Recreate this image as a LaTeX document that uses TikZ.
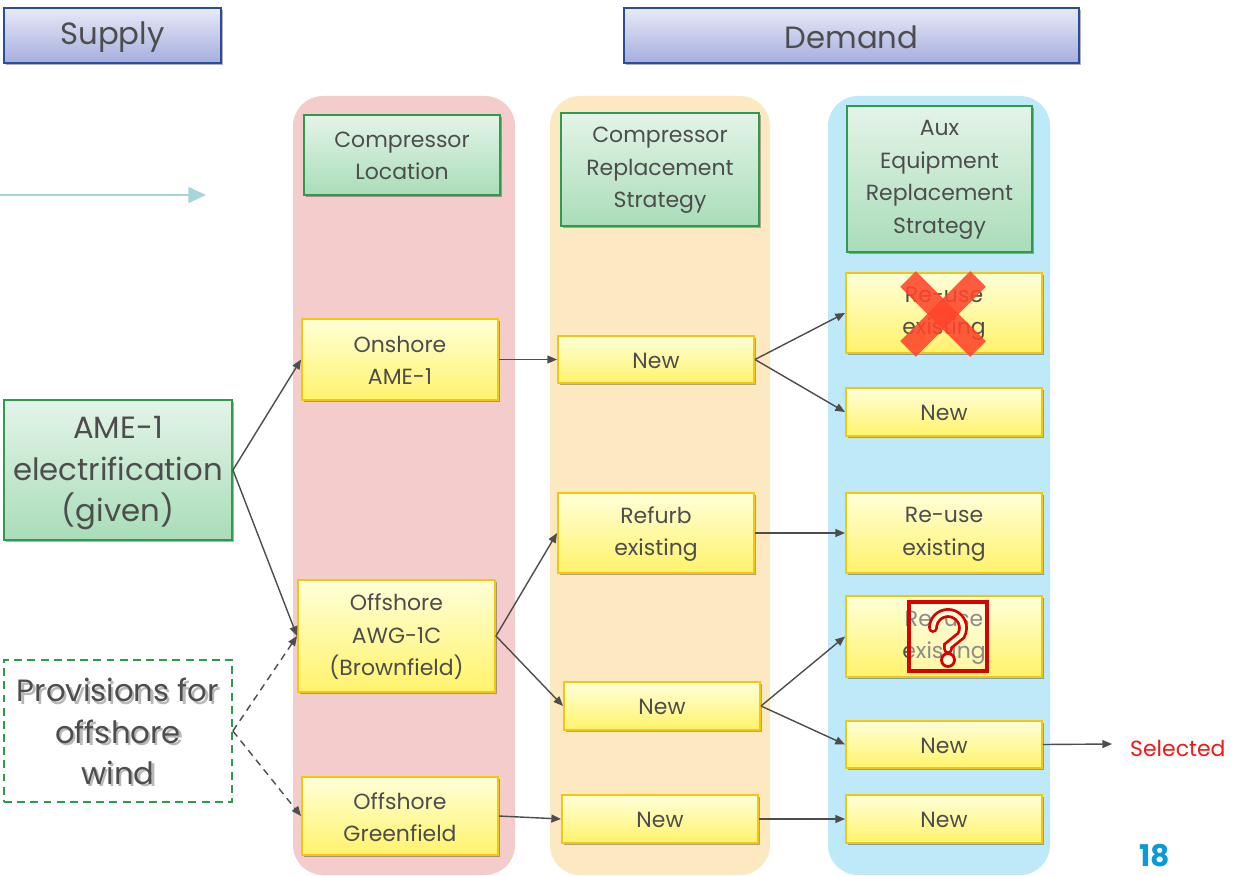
\documentclass[tikz,border=0pt]{standalone}
\usepackage{fontspec}
\setmainfont{Poppins}
\usetikzlibrary{arrows.meta,shadows,fit}
\definecolor{txt}{HTML}{4D4D4D}
\definecolor{colred}{HTML}{F5CCCC}
\definecolor{colorg}{HTML}{FCE9C2}
\definecolor{colblu}{HTML}{BEE9F8}
\definecolor{grnt}{HTML}{E4F4E8}
\definecolor{grnbt}{HTML}{A9DDB9}
\definecolor{grnb}{HTML}{2F9B4F}
\definecolor{ylt}{HTML}{FFFFD8}
\definecolor{ylbt}{HTML}{FFF36B}
\definecolor{ylb}{HTML}{F2C80F}
\definecolor{hdt}{HTML}{E8EAF7}
\definecolor{hdbt}{HTML}{A5AEDE}
\definecolor{hdb}{HTML}{2B4C9B}
\definecolor{cyanarr}{HTML}{A6D6D9}
\definecolor{selred}{HTML}{F01818}
\definecolor{pgblue}{HTML}{0A9AD8}
\definecolor{xred}{HTML}{FF452C}
\newcommand{\tbox}[7]{%
  \node[#1,fit={(#3,#4)(#5,#6)}] (#2) {};
  \node[#1T] (#2t) at (#2.center) {#7};}
\begin{document}
\begin{tikzpicture}[x=0.02cm,y=-0.02cm,
  shd/.style={drop shadow={shadow xshift=1.2pt,shadow yshift=-1.2pt,opacity=0.3,fill=black}},
  hdr/.style={draw=hdb,line width=1pt,top color=hdt,bottom color=hdbt,shd,inner sep=0pt},
  hdrT/.style={text=txt,font=\fontsize{17.5}{20}\selectfont,yshift=-1.2pt},
  gbox/.style={draw=grnb,line width=1.1pt,top color=grnt,bottom color=grnbt,shd,inner sep=0pt},
  gboxT/.style={align=center,text=txt,font=\fontsize{12.5}{18.5}\selectfont,yshift=-0.6pt},
  bigT/.style={align=center,text=txt,font=\fontsize{17.5}{23.5}\selectfont,yshift=-1.8pt},
  ybox/.style={draw=ylb,line width=1.1pt,top color=ylt,bottom color=ylbt,shd,inner sep=0pt},
  yboxT/.style={align=center,text=txt,font=\fontsize{12.5}{18.5}\selectfont,yshift=-0.6pt},
  arr/.style={draw=txt,line width=0.8pt,-{Triangle[length=5.5pt,width=4.5pt]}},
  dsh/.style={dash pattern=on 4pt off 3pt}
]
\useasboundingbox (0,0) rectangle (1236,875);
\clip (0,0) rectangle (1236,875);
\fill[white] (0,0) rectangle (1236,875);

% columns
\fill[colred,rounded corners=0.6cm] (293,96) rectangle (515,875);
\fill[colorg,rounded corners=0.6cm] (550,96) rectangle (770,875);
\fill[colblu,rounded corners=0.6cm] (828,96) rectangle (1050,875);

% headers
\tbox{hdr}{supply}{4}{8}{221}{63}{Supply}
\tbox{hdr}{demand}{624}{8}{1079}{63}{Demand}

% cyan arrow
\coordinate (cya) at (0,195);
\coordinate (cyb) at (206,195);
\draw[cyanarr,line width=1.3pt,-{Triangle[length=10pt,width=9pt]}] (cya) -- (cyb);

% column headers
\tbox{gbox}{h1}{304}{115}{500}{195}{Compressor\\Location}
\tbox{gbox}{h2}{561}{113}{759}{226}{Compressor\\Replacement\\Strategy}
\tbox{gbox}{h3}{847}{106}{1032}{252}{Aux\\Equipment\\Replacement\\Strategy}

% left boxes
\node[gbox,fit={(4,400)(232,540)}] (ame) {};
\node[bigT] (amet) at (ame.center) {AME-1\\electrification\\(given)};
\node[draw=grnb,line width=1pt,dash pattern=on 4.5pt off 3pt,fill=white,inner sep=0pt,
  fit={(4,660)(232,802)}] (prov) {};
\node[bigT,text=black!28] (provs) at ([xshift=1.3pt,yshift=0.2pt]prov.center) {Provisions for\\offshore\\wind};
\node[bigT] (provt) at ([yshift=1.5pt]prov.center) {Provisions for\\offshore\\wind};

% column 1
\tbox{ybox}{onshore}{302}{319}{498}{400}{Onshore\\AME-1}
\tbox{ybox}{awg}{298}{580}{495}{692}{Offshore\\AWG-1C\\(Brownfield)}
\tbox{ybox}{green}{302}{777}{498}{855}{Offshore\\Greenfield}

% column 2
\tbox{ybox}{n1}{558}{336}{754}{383}{New}
\tbox{ybox}{refurb}{558}{493}{754}{573}{Refurb\\existing}
\tbox{ybox}{n2}{564}{682}{760}{730}{New}
\tbox{ybox}{n3}{562}{795}{758}{843}{New}

% column 3
\tbox{ybox}{reusex}{846}{273}{1042}{353}{Re-use\\existing}
\tbox{ybox}{n4}{846}{388}{1042}{436}{New}
\tbox{ybox}{reuse}{846}{493}{1042}{573}{Re-use\\existing}
\tbox{ybox}{reuseq}{846}{596}{1042}{677}{Re-use\\existing}
\tbox{ybox}{n5}{846}{721}{1042}{768}{New}
\tbox{ybox}{n6}{846}{795}{1042}{843}{New}

% red X
\draw[xred,opacity=0.88,line width=12.5pt] (908,279) -- (978,349);
\draw[xred,opacity=0.88,line width=12.5pt] (978,279) -- (908,349);

% question mark box
\draw[red!85!black,line width=1.8pt,fill=white,fill opacity=0.35] (909,602) rectangle (987,671);
\draw[red!85!black,line width=1.6pt,double=ylt,double distance=2.4pt,line cap=round]
  (933,628) arc[start angle=180,end angle=390,radius=15] -- (948,646) -- (948,649);
\draw[red!85!black,line width=1.6pt,fill=ylt] (948,660) circle[radius=6.5];

% connectors
\draw[arr] (ame.east) -- (onshore.west);
\draw[arr] (ame.east) -- (awg.west);
\draw[arr,dsh] (prov.east) -- (awg.west);
\draw[arr,dsh] (prov.east) -- (green.west);
\draw[arr] (onshore.east) -- (n1.west);
\draw[arr] (awg.east) -- (refurb.west);
\draw[arr] (awg.east) -- (n2.west);
\draw[arr] (green.east) -- (n3.west);
\draw[arr] (n1.east) -- (reusex.west);
\draw[arr] (n1.east) -- (n4.west);
\draw[arr] (refurb.east) -- (reuse.west);
\draw[arr] (n2.east) -- (reuseq.west);
\draw[arr] (n2.east) -- (n5.west);
\draw[arr] (n3.east) -- (n6.west);
\coordinate (selend) at (1112,744);
\draw[arr] (n5.east) -- (selend);
\node[text=selred,font=\fontsize{12.5}{15}\selectfont,anchor=west] (sel) at (1124,748) {Selected};

\node[text=pgblue,font=\bfseries\fontsize{17}{20}\selectfont,anchor=base] (pg) at (1155,866) {18};
\end{tikzpicture}
\end{document}
